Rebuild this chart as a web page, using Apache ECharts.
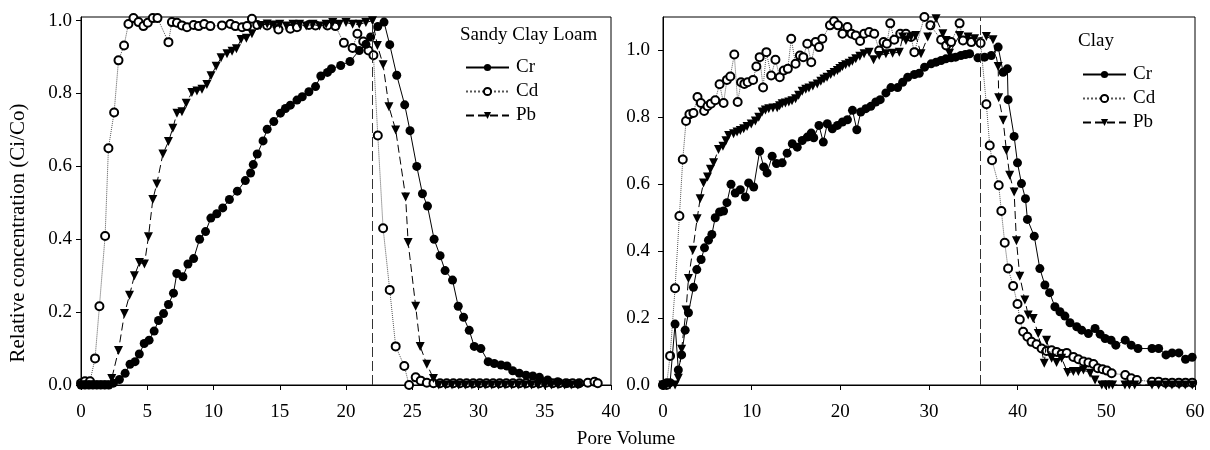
<!DOCTYPE html>
<html>
<head>
<meta charset="utf-8">
<script src="https://cdn.jsdelivr.net/npm/echarts@6/dist/echarts.min.js"></script>
<style>
html,body{margin:0;padding:0;background:#fff;}
#chart{width:1210px;height:450px;}
</style>
</head>
<body>
<div id="chart"></div>
<script>
// ---- Data ----
var panelTitles = ['Sandy Clay Loam', 'Clay'];
var seriesNames = ['Cr', 'Cd', 'Pb'];
var xTicksLeft = [0, 5, 10, 15, 20, 25, 30, 35, 40];
var xTicksRight = [0, 10, 20, 30, 40, 50, 60];
var yTicks = [0, 0.2, 0.4, 0.6, 0.8, 1.0];
var switchLeft = 22;
var switchRight = 35.8;

var sclCr = [[0,0],[0.3,0],[0.6,0],[0.9,0],[1.2,0],[1.5,0],[1.8,0],[2.1,0],[2.44,0.005],[2.9,0.015],[3.33,0.032],[3.7,0.057],[4.08,0.064],[4.4,0.085],[4.77,0.114],[5.14,0.123],[5.52,0.148],[5.85,0.177],[6.23,0.196],[6.6,0.221],[6.98,0.252],[7.23,0.306],[7.69,0.297],[8.07,0.332],[8.5,0.347],[8.95,0.4],[9.4,0.421],[9.8,0.458],[10.25,0.47],[10.7,0.486],[11.2,0.509],[11.8,0.532],[12.4,0.561],[12.8,0.582],[13.0,0.605],[13.3,0.634],[13.74,0.67],[14.05,0.702],[14.55,0.723],[15.05,0.746],[15.43,0.759],[15.8,0.768],[16.3,0.782],[16.7,0.791],[17.2,0.805],[17.7,0.819],[18.1,0.848],[18.6,0.858],[18.9,0.868],[19.6,0.877],[20.3,0.888],[21.0,0.918],[21.5,0.935],[21.86,0.955],[22.4,0.984],[22.87,0.996],[23.3,0.934],[23.83,0.85],[24.43,0.769],[24.83,0.698],[25.34,0.6],[25.77,0.525],[26.15,0.491],[26.65,0.4],[27.1,0.355],[27.48,0.314],[28.04,0.288],[28.47,0.216],[28.87,0.186],[29.3,0.15],[29.68,0.106],[30.18,0.1],[30.73,0.064],[31.19,0.059],[31.7,0.055],[32.15,0.052],[32.58,0.039],[33.08,0.032],[33.59,0.027],[34.1,0.025],[34.6,0.021],[35.22,0.014],[35.98,0.009],[36.74,0.005],[37.5,0.003]];

var sclCd = [[0,0.005],[0.3,0.01],[0.68,0.01],[1.06,0.073],[1.39,0.216],[1.82,0.409],[2.07,0.65],[2.5,0.748],[2.83,0.891],[3.25,0.932],[3.58,0.991],[3.96,1.007],[4.34,0.996],[4.71,0.985],[5.04,0.994],[5.42,1.007],[5.77,1.007],[6.6,0.941],[6.86,0.996],[7.24,0.994],[7.62,0.987],[8.0,0.982],[8.5,0.988],[8.88,0.985],[9.3,0.991],[9.76,0.985],[10.64,0.987],[11.27,0.991],[11.65,0.985],[12.16,0.982],[12.53,0.985],[12.9,1.005],[13.3,0.988],[14.05,0.987],[14.9,0.976],[15.8,0.978],[16.3,0.982],[17.2,0.988],[17.7,0.987],[18.6,0.987],[19.2,0.985],[19.84,0.939],[20.5,0.925],[20.86,0.964],[21.3,0.943],[21.7,0.918],[22.07,0.905],[22.4,0.685],[22.8,0.43],[23.3,0.261],[23.75,0.106],[24.4,0.052],[24.76,0.0],[25.26,0.021],[25.64,0.012],[26.1,0.006],[26.6,0.005],[27.1,0.005],[27.6,0.005],[28.1,0.005],[28.6,0.005],[29.1,0.005],[29.6,0.005],[30.1,0.005],[30.6,0.005],[31.1,0.005],[31.6,0.005],[32.1,0.005],[32.6,0.005],[33.1,0.005],[33.6,0.005],[34.1,0.005],[34.6,0.005],[35.1,0.006],[35.6,0.005],[36.1,0.005],[36.6,0.005],[37.1,0.005],[37.6,0.005],[38.25,0.006],[38.75,0.009],[39.0,0.005]];

var sclPb = [[0,0],[0.3,0],[0.6,0],[0.9,0],[1.2,0],[1.5,0],[1.8,0],[2.1,0],[2.32,0.018],[2.83,0.095],[3.28,0.196],[3.66,0.246],[4.03,0.3],[4.41,0.336],[4.79,0.332],[5.09,0.407],[5.42,0.509],[5.72,0.552],[6.18,0.634],[6.6,0.668],[6.93,0.705],[7.24,0.746],[7.62,0.75],[7.94,0.773],[8.37,0.803],[8.75,0.807],[9.13,0.812],[9.5,0.825],[9.81,0.849],[10.2,0.875],[10.57,0.898],[11.02,0.909],[11.4,0.916],[11.73,0.923],[12.08,0.948],[12.48,0.952],[12.9,0.964],[13.54,0.987],[14.05,0.991],[14.55,0.988],[15.0,0.99],[15.5,0.985],[16.0,0.99],[16.5,0.99],[17.0,0.985],[17.5,0.99],[18.0,0.985],[18.5,0.99],[19.0,0.995],[19.5,0.99],[20.0,0.995],[20.5,0.99],[21.0,0.99],[21.5,0.995],[22.0,1.0],[22.37,0.932],[22.8,0.879],[23.24,0.764],[23.75,0.7],[24.5,0.516],[24.69,0.391],[25.26,0.216],[25.6,0.106],[26.1,0.057],[26.6,0.018],[27.0,0],[27.5,0],[28.0,0],[28.5,0],[29.0,0],[29.5,0],[30.0,0],[30.5,0],[31.0,0],[31.5,0],[32.0,0],[32.5,0],[33.0,0],[33.5,0],[34.0,0],[34.5,0],[35.0,0],[35.5,0],[36.0,0],[36.5,0],[37.0,0],[37.5,0]];

var clayCr = [[0,0],[0.42,0.007],[0.8,0.007],[1.36,0.182],[1.73,0.045],[2.1,0.09],[2.5,0.164],[2.87,0.216],[3.43,0.292],[3.81,0.345],[4.3,0.375],[4.68,0.41],[5.13,0.433],[5.51,0.45],[5.89,0.5],[6.38,0.517],[6.83,0.52],[7.21,0.545],[7.67,0.6],[8.15,0.574],[8.72,0.584],[9.29,0.562],[9.66,0.604],[10.23,0.592],[10.9,0.699],[11.36,0.652],[11.74,0.634],[12.31,0.684],[12.8,0.662],[13.44,0.664],[14.0,0.693],[14.58,0.721],[15.14,0.711],[15.7,0.731],[16.27,0.741],[16.72,0.753],[17.0,0.739],[17.59,0.776],[18.08,0.726],[18.53,0.781],[19.1,0.766],[19.67,0.776],[20.24,0.786],[20.8,0.793],[21.37,0.821],[21.86,0.763],[22.3,0.816],[22.88,0.826],[23.44,0.833],[24.0,0.846],[24.5,0.853],[25.14,0.873],[25.71,0.889],[26.46,0.889],[27.03,0.905],[27.6,0.92],[28.35,0.928],[28.9,0.932],[29.5,0.95],[30.24,0.96],[30.8,0.965],[31.37,0.97],[31.9,0.975],[32.5,0.978],[33.0,0.98],[33.6,0.985],[34.1,0.988],[34.58,0.99],[35.52,0.978],[36.27,0.98],[37.03,0.985],[37.8,1.01],[38.36,0.935],[38.84,0.945],[38.92,0.853],[39.6,0.743],[39.98,0.664],[40.43,0.602],[40.88,0.557],[41.1,0.495],[41.87,0.445],[42.5,0.348],[43.07,0.299],[43.6,0.276],[44.2,0.234],[44.77,0.219],[45.33,0.206],[45.9,0.186],[46.66,0.174],[47.22,0.164],[47.98,0.154],[48.73,0.169],[49.3,0.152],[49.86,0.139],[50.54,0.134],[51.07,0.119],[52.13,0.134],[52.81,0.119],[53.57,0.109],[55.15,0.109],[55.9,0.109],[56.73,0.09],[57.42,0.096],[58.18,0.096],[58.93,0.077],[59.68,0.083]];

var clayCd = [[0,0],[0.4,0],[0.8,0.087],[1.36,0.289],[1.85,0.505],[2.23,0.674],[2.6,0.789],[2.98,0.809],[3.43,0.813],[3.89,0.861],[4.27,0.843],[4.64,0.819],[5.02,0.833],[5.4,0.841],[5.89,0.851],[6.38,0.899],[6.83,0.843],[7.21,0.912],[7.59,0.922],[8.04,0.988],[8.42,0.846],[8.8,0.905],[9.17,0.9],[9.55,0.905],[10.16,0.912],[10.53,0.952],[10.9,0.98],[11.29,0.889],[11.66,0.995],[12.2,0.925],[12.68,0.972],[13.17,0.92],[13.62,0.94],[14.08,0.945],[14.46,1.035],[14.95,0.96],[15.44,0.985],[15.82,0.98],[16.27,1.02],[16.72,0.965],[17.21,1.025],[17.59,1.01],[17.97,1.035],[18.83,1.075],[19.29,1.087],[19.74,1.075],[20.24,1.05],[20.8,1.07],[21.26,1.05],[21.74,1.045],[22.23,1.028],[22.68,1.05],[23.25,1.055],[23.82,1.05],[24.38,1.0],[24.88,1.025],[25.25,1.02],[25.63,1.081],[26.08,1.032],[26.76,1.05],[27.4,1.05],[27.97,1.04],[28.35,0.995],[29.48,1.1],[30.16,1.075],[31.37,1.032],[31.94,1.015],[32.5,1.025],[33.45,1.081],[33.83,1.03],[34.77,1.025],[35.82,1.022],[36.47,0.839],[36.85,0.716],[37.11,0.672],[37.86,0.597],[38.16,0.52],[38.54,0.425],[38.92,0.348],[39.49,0.296],[39.98,0.242],[40.24,0.196],[40.62,0.159],[41.1,0.144],[41.56,0.129],[42.13,0.122],[42.7,0.109],[43.26,0.102],[43.83,0.104],[44.39,0.099],[44.96,0.093],[45.53,0.096],[46.28,0.084],[46.85,0.077],[47.42,0.07],[47.98,0.067],[48.55,0.063],[49.04,0.05],[49.57,0.047],[50.06,0.043],[50.6,0.035],[52.13,0.03],[52.81,0.02],[53.45,0.015],[55.15,0.01],[55.9,0.01],[56.66,0.007],[57.42,0.007],[58.18,0.007],[58.93,0.007],[59.68,0.007]];

var clayPb = [[0,0],[0.4,0],[0.8,0],[1.36,0],[1.73,0.02],[2.1,0.107],[2.6,0.224],[2.87,0.318],[3.36,0.403],[3.85,0.497],[4.19,0.557],[4.57,0.604],[5.02,0.622],[5.35,0.645],[5.7,0.664],[6.26,0.704],[6.76,0.714],[7.1,0.73],[7.4,0.746],[7.96,0.751],[8.35,0.756],[8.72,0.761],[9.1,0.766],[9.48,0.773],[9.95,0.78],[10.42,0.789],[10.8,0.8],[11.18,0.816],[11.55,0.822],[11.93,0.826],[12.4,0.828],[12.88,0.829],[13.15,0.835],[13.44,0.841],[13.8,0.843],[14.19,0.846],[14.55,0.85],[14.95,0.856],[15.3,0.866],[15.7,0.878],[16.1,0.884],[16.46,0.888],[16.9,0.894],[17.4,0.9],[17.8,0.908],[18.15,0.915],[18.5,0.92],[18.91,0.928],[19.3,0.934],[19.67,0.94],[19.95,0.946],[20.24,0.952],[20.6,0.957],[20.99,0.962],[21.35,0.968],[21.74,0.975],[22.2,0.983],[22.68,0.99],[23.25,0.995],[23.75,0.972],[24.38,0.985],[25.14,0.99],[25.9,0.992],[26.65,0.995],[27.03,1.04],[27.4,1.03],[27.97,1.04],[28.5,1.045],[29.1,0.99],[29.86,1.04],[30.8,1.095],[31.56,1.05],[31.94,1.03],[32.31,0.992],[33.45,1.045],[34.4,1.04],[35.14,1.035],[36.47,1.042],[37.22,1.032],[37.8,0.952],[37.86,0.859],[38.36,0.791],[38.73,0.701],[39.1,0.627],[39.6,0.577],[39.86,0.431],[40.24,0.325],[40.81,0.254],[41.19,0.209],[41.75,0.199],[42.32,0.154],[43.0,0.065],[43.26,0.134],[43.83,0.08],[44.39,0.067],[44.96,0.08],[45.64,0.037],[46.28,0.04],[46.85,0.04],[47.42,0.045],[48.17,0.035],[48.73,0.015],[49.49,0],[49.9,0],[50.3,0],[50.7,0],[52.1,0],[52.6,0],[53.2,0],[55.15,0],[55.9,0],[56.7,0],[57.4,0],[58.2,0],[58.9,0],[59.7,0]];

// ---- Chart ----
var FONT = '"Liberation Serif", "Times New Roman", serif';
var chart = echarts.init(document.getElementById('chart'), null, {renderer: 'canvas'});

function xAxisCfg(idx, max, interval) {
  return {
    type: 'value', gridIndex: idx, min: 0, max: max, interval: interval,
    axisLine: {show: true, lineStyle: {color: '#000', width: 1}},
    axisTick: {show: true, length: 5, lineStyle: {color: '#000'}},
    axisLabel: {color: '#000', fontFamily: FONT, fontSize: 19, margin: 18},
    splitLine: {show: false}
  };
}
function yAxisCfg(idx, max, margin) {
  return {
    type: 'value', gridIndex: idx, min: 0, max: max,
    axisLine: {show: true, lineStyle: {color: '#000', width: 1}},
    axisTick: {show: true, length: 5, lineStyle: {color: '#000'}, customValues: yTicks},
    axisLabel: {color: '#000', fontFamily: FONT, fontSize: 19, margin: margin,
      customValues: yTicks, formatter: function (v) { return v.toFixed(1); }},
    splitLine: {show: false}
  };
}
function seriesSet(idx, cr, cd, pb, vline) {
  return [
    {name: 'Cr', type: 'line', xAxisIndex: idx, yAxisIndex: idx, data: cr,
      symbol: 'circle', symbolSize: 9, itemStyle: {color: '#000'},
      lineStyle: {color: '#000', width: 1}, z: 4},
    {name: 'Cd', type: 'line', xAxisIndex: idx, yAxisIndex: idx, data: cd,
      symbol: 'emptyCircle', symbolSize: 8, itemStyle: {color: '#000', borderWidth: 1},
      lineStyle: {color: '#555', width: 1, type: 'dotted'}, z: 3,
      markLine: {silent: true, symbol: 'none', animation: false,
        label: {show: false},
        lineStyle: {color: '#333', width: 1, type: [10, 4]},
        data: [{xAxis: vline}]}},
    {name: 'Pb', type: 'line', xAxisIndex: idx, yAxisIndex: idx, data: pb,
      symbol: 'triangle', symbolRotate: 180, symbolSize: 9, itemStyle: {color: '#000'},
      lineStyle: {color: '#000', width: 1, type: [8, 4]}, z: 5}
  ];
}

var option = {
  animation: false,
  backgroundColor: '#fff',
  grid: [
    {left: 81, right: 599, top: 17, bottom: 65, show: true, borderColor: '#000', borderWidth: 1},
    {left: 663, right: 15, top: 17, bottom: 65, show: true, borderColor: '#000', borderWidth: 1}
  ],
  xAxis: [xAxisCfg(0, xTicksLeft[xTicksLeft.length - 1], 5), xAxisCfg(1, xTicksRight[xTicksRight.length - 1], 10)],
  yAxis: [yAxisCfg(0, 1.01, 9), yAxisCfg(1, 1.1, 13)],
  legend: [
    {data: seriesNames, orient: 'vertical', left: 460, top: 53, itemWidth: 43, itemHeight: 9, itemGap: 5,
      textStyle: {color: '#000', fontFamily: FONT, fontSize: 19, padding: [0, 0, 0, 2]}, selectedMode: false},
    {data: seriesNames, orient: 'vertical', left: 1077, top: 60, itemWidth: 43, itemHeight: 9, itemGap: 5,
      textStyle: {color: '#000', fontFamily: FONT, fontSize: 19, padding: [0, 0, 0, 2]}, selectedMode: false}
  ],
  graphic: [
    {type: 'text', x: 460, y: 35, style: {text: panelTitles[0], font: '19px ' + FONT, fill: '#000', textVerticalAlign: 'middle'}},
    {type: 'text', x: 1078, y: 41, style: {text: panelTitles[1], font: '19px ' + FONT, fill: '#000', textVerticalAlign: 'middle'}},
    {type: 'text', x: 626, y: 439, style: {text: 'Pore Volume', font: '19px ' + FONT, fill: '#000', textAlign: 'center', textVerticalAlign: 'middle'}},
    {type: 'text', x: 18, y: 233, rotation: Math.PI / 2, style: {text: 'Relative concentration (Ci/Co)', font: '21px ' + FONT, fill: '#000', textAlign: 'center', textVerticalAlign: 'middle'}}
  ],
  series: [].concat(seriesSet(0, sclCr, sclCd, sclPb, switchLeft), seriesSet(1, clayCr, clayCd, clayPb, switchRight))
};
chart.setOption(option);
</script>
</body>
</html>
